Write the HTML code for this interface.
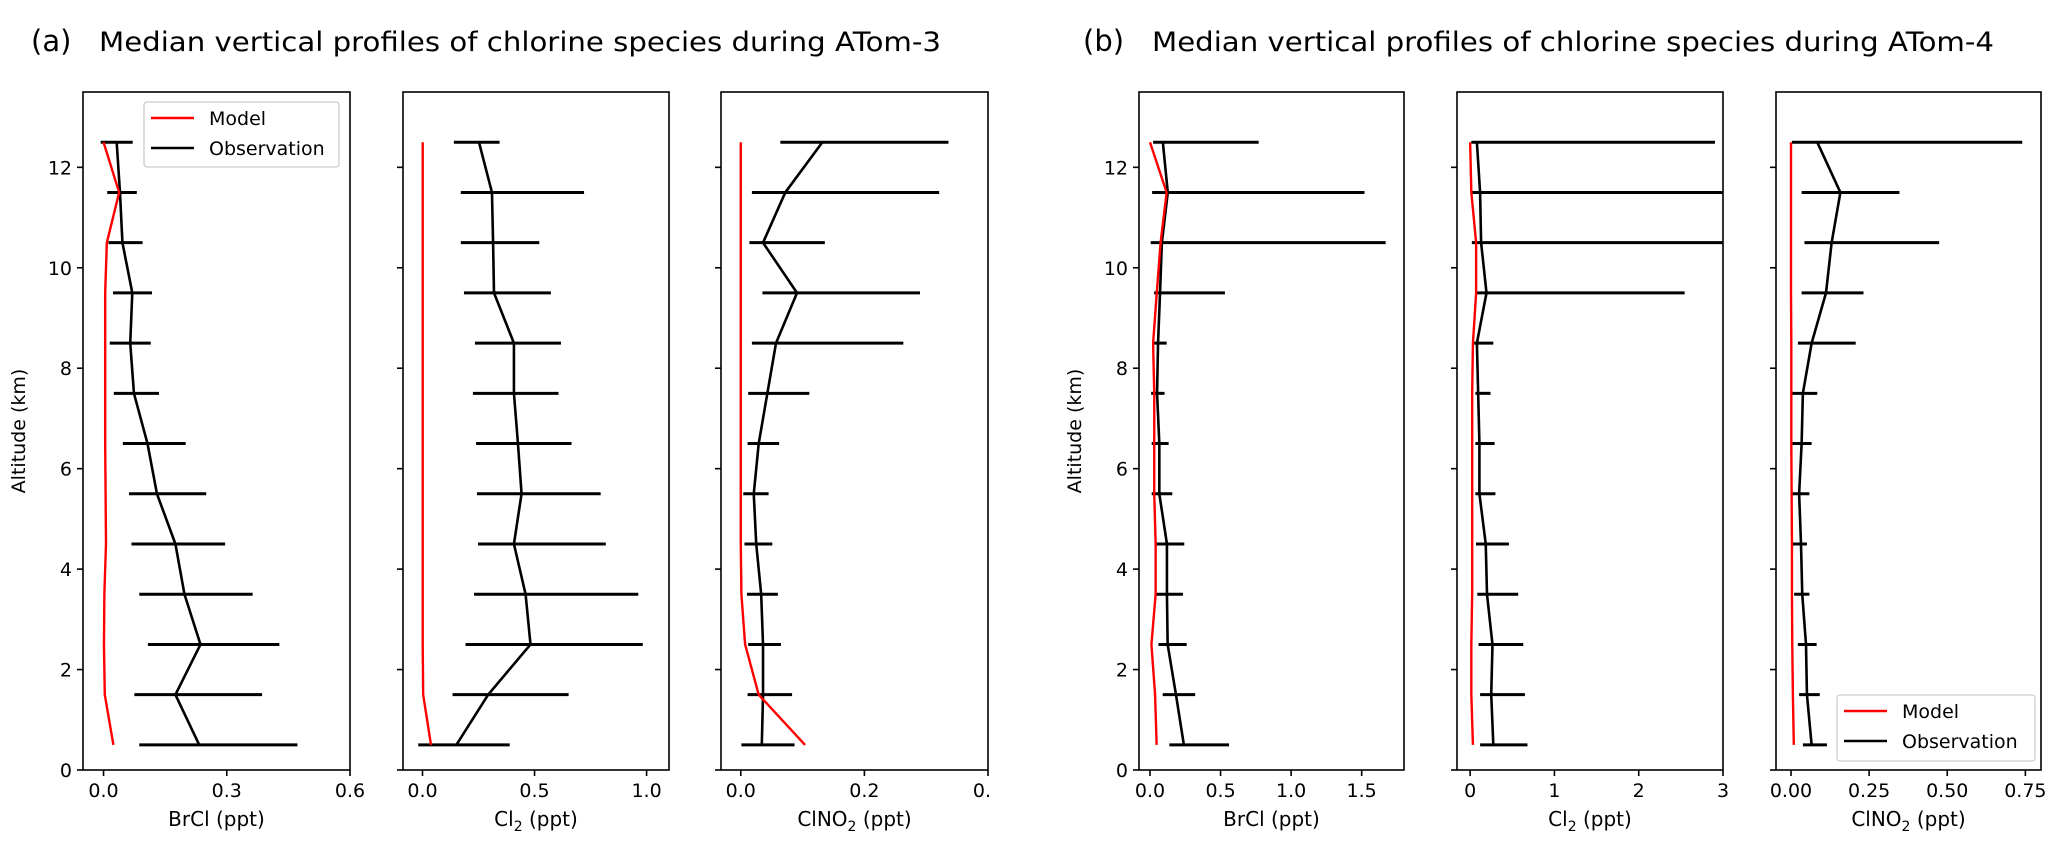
<!DOCTYPE html>
<html><head><meta charset="utf-8"><style>
html,body{margin:0;padding:0;background:#fff}
svg text{font-family:"DejaVu Sans","Liberation Sans",sans-serif;fill:#000}
</style></head><body>
<svg id="fig" width="2067" height="851" viewBox="0 0 2067 851" xmlns="http://www.w3.org/2000/svg">
<text x="31" y="51" font-size="29">(a)</text>
<text x="99" y="51" font-size="27" textLength="842" lengthAdjust="spacingAndGlyphs">Median vertical profiles of chlorine species during ATom-3</text>
<text x="1083" y="51" font-size="29">(b)</text>
<text x="1152" y="51" font-size="27" textLength="842" lengthAdjust="spacingAndGlyphs">Median vertical profiles of chlorine species during ATom-4</text>
</svg>
<script>
// altitude levels (km)
const levels = [0.5,1.5,2.5,3.5,4.5,5.5,6.5,7.5,8.5,9.5,10.5,11.5,12.5];
const yTicks = [0,2,4,6,8,10,12];

// (a) ATom-3 BrCl
const a1Obs   = [0.233,0.175,0.236,0.197,0.175,0.13,0.107,0.074,0.065,0.07,0.046,0.04,0.032];
const a1Lo    = [0.087,0.075,0.108,0.087,0.068,0.062,0.047,0.025,0.015,0.023,0.012,0.009,-0.007];
const a1Hi    = [0.472,0.386,0.428,0.363,0.296,0.25,0.2,0.135,0.115,0.118,0.095,0.081,0.071];
const a1Model = [0.024,0.003,0.001,0.002,0.006,0.005,0.004,0.004,0.004,0.004,0.008,0.038,0.0];
const a1Ticks = ["0.0","0.3","0.6"];
// (a) ATom-3 Cl2
const a2Obs   = [0.151,0.293,0.482,0.46,0.408,0.442,0.426,0.408,0.408,0.319,0.315,0.31,0.252];
const a2Lo    = [-0.019,0.134,0.192,0.23,0.248,0.243,0.239,0.225,0.234,0.185,0.171,0.171,0.14];
const a2Hi    = [0.389,0.652,0.983,0.963,0.818,0.795,0.665,0.607,0.618,0.573,0.521,0.721,0.344];
const a2Model = [0.038,0.003,0.001,0.001,0.001,0.001,0.001,0.001,0.001,0.001,0.001,0.001,0.001];
const a2Ticks = ["0.0","0.5","1.0"];
// (a) ATom-3 ClNO2
const a3Obs   = [0.034,0.036,0.036,0.033,0.025,0.021,0.029,0.043,0.057,0.091,0.036,0.072,0.132];
const a3Lo    = [0.001,0.011,0.012,0.01,0.006,0.004,0.011,0.012,0.018,0.035,0.014,0.018,0.064];
const a3Hi    = [0.087,0.083,0.065,0.06,0.051,0.045,0.062,0.111,0.263,0.29,0.136,0.321,0.336];
const a3Model = [0.104,0.029,0.007,0.001,0,0,0,0,0,0,0,0,0];
const a3Ticks = ["0.0","0.2","0.4"];
// (b) ATom-4 BrCl
const b1Obs   = [0.24,0.184,0.125,0.12,0.12,0.066,0.066,0.05,0.057,0.071,0.084,0.126,0.091];
const b1Lo    = [0.137,0.09,0.06,0.042,0.042,0.012,0.012,0.008,0.022,0.029,0.005,0.015,0.022];
const b1Hi    = [0.56,0.32,0.26,0.234,0.243,0.158,0.132,0.103,0.118,0.531,1.67,1.52,0.77];
const b1Model = [0.047,0.036,0.01,0.04,0.04,0.03,0.03,0.03,0.022,0.048,0.075,0.118,0.0];
const b1Ticks = ["0.0","0.5","1.0","1.5"];
// (b) ATom-4 Cl2
const b2Obs   = [0.275,0.25,0.265,0.2,0.185,0.11,0.11,0.095,0.08,0.194,0.13,0.118,0.08];
const b2Lo    = [0.118,0.118,0.1,0.085,0.07,0.062,0.062,0.062,0.047,0.08,0.02,0.014,0.014];
const b2Hi    = [0.68,0.65,0.63,0.57,0.46,0.3,0.29,0.242,0.275,2.545,3.5,3.5,2.905];
const b2Model = [0.033,0.014,0.014,0.024,0.024,0.024,0.024,0.024,0.033,0.071,0.071,0.014,0.0];
const b2Ticks = ["0","1","2","3"];
// (b) ATom-4 ClNO2
const b3Obs   = [0.066,0.051,0.048,0.036,0.032,0.026,0.034,0.038,0.066,0.112,0.13,0.158,0.084];
const b3Lo    = [0.038,0.026,0.022,0.01,0.005,0.005,0.005,0.003,0.022,0.034,0.043,0.034,0.003];
const b3Hi    = [0.115,0.092,0.082,0.059,0.051,0.059,0.066,0.084,0.207,0.232,0.474,0.347,0.74];
const b3Model = [0.009,0.006,0.004,0.003,0.003,0.002,0.001,0.001,0.001,0,0,0,0];
const b3Ticks = ["0.00","0.25","0.50","0.75"];

const NS = "http://www.w3.org/2000/svg";
const svg = document.getElementById('fig');
const Y0 = 770, YT = 92, YMAX = 13.5;
function yS(v){ return Y0 - (v/YMAX)*(Y0-YT); }
function mk(tag, attrs, parent){
  const e = document.createElementNS(NS, tag);
  for (const k in attrs) e.setAttribute(k, attrs[k]);
  (parent||svg).appendChild(e);
  return e;
}

const panels = [
  {id:'a-brcl', x0:83, x1:350, xmin:-0.05, xmax:0.6, obs:a1Obs, lo:a1Lo, hi:a1Hi, model:a1Model, ticks:a1Ticks, label:['BrCl (ppt)'], ylab:true, legend:'top'},
  {id:'a-cl2', x0:403, x1:669, xmin:-0.087, xmax:1.10, obs:a2Obs, lo:a2Lo, hi:a2Hi, model:a2Model, ticks:a2Ticks, label:['Cl','2',' (ppt)']},
  {id:'a-clno2', x0:721, x1:988, xmin:-0.032, xmax:0.4, obs:a3Obs, lo:a3Lo, hi:a3Hi, model:a3Model, ticks:a3Ticks, label:['ClNO','2',' (ppt)'], clipTick:true},
  {id:'b-brcl', x0:1139, x1:1404, xmin:-0.078, xmax:1.8, obs:b1Obs, lo:b1Lo, hi:b1Hi, model:b1Model, ticks:b1Ticks, label:['BrCl (ppt)'], ylab:true},
  {id:'b-cl2', x0:1457, x1:1723, xmin:-0.156, xmax:3.0, obs:b2Obs, lo:b2Lo, hi:b2Hi, model:b2Model, ticks:b2Ticks, label:['Cl','2',' (ppt)']},
  {id:'b-clno2', x0:1776, x1:2041, xmin:-0.048, xmax:0.8, obs:b3Obs, lo:b3Lo, hi:b3Hi, model:b3Model, ticks:b3Ticks, label:['ClNO','2',' (ppt)'], legend:'bottom'}
];

panels.forEach((p, pi) => {
  const xS = v => p.x0 + (v - p.xmin)/(p.xmax - p.xmin)*(p.x1 - p.x0);
  const g = mk('g', {});
  
  
  const cp = mk('clipPath', {id:'clip'+pi}, g);
  mk('rect', {x:p.x0, y:YT, width:p.x1-p.x0, height:Y0-YT}, cp);
  const plot = mk('g', {'clip-path':'url(#clip'+pi+')'}, g);

  // error bars
  levels.forEach((lv, i) => {
    const b = mk('line', {x1:xS(p.lo[i]), x2:xS(p.hi[i]), y1:yS(lv), y2:yS(lv), stroke:'#000', 'stroke-width':3}, plot);
    
    
  });
  // observation line
  const ob = mk('polyline', {points: levels.map((lv,i)=>xS(p.obs[i])+','+yS(lv)).join(' '), fill:'none', stroke:'#000', 'stroke-width':2.6, 'stroke-linejoin':'round'}, plot);
  
  
  // model line
  const ml = mk('polyline', {points: levels.map((lv,i)=>xS(p.model[i])+','+yS(lv)).join(' '), fill:'none', stroke:'#ff0000', 'stroke-width':2.4, 'stroke-linejoin':'round'}, plot);
  
  

  // frame
  const fr = mk('rect', {x:p.x0, y:YT, width:p.x1-p.x0, height:Y0-YT, fill:'none', stroke:'#000', 'stroke-width':1.6}, g);
  
  

  // y ticks
  yTicks.forEach(t => {
    mk('line', {x1:p.x0-6, x2:p.x0, y1:yS(t), y2:yS(t), stroke:'#000', 'stroke-width':1.6}, g);
    if (p.ylab) {
      const tl = mk('text', {x:p.x0-11, y:yS(t)+7, 'font-size':19, 'text-anchor':'end'}, g);
      tl.textContent = String(t);
      
      
    }
  });
  if (p.ylab) {
    const cx = p.x0 - 58, cy = (Y0+YT)/2;
    const yl = mk('text', {x:cx, y:cy, 'font-size':19, 'text-anchor':'middle', transform:'rotate(-90 '+cx+' '+cy+')'}, g);
    yl.textContent = 'Altitude (km)';
    
    
  }
  // x ticks
  let tg = g;
  if (p.clipTick) {
    const cp2 = mk('clipPath', {id:'tclip'+pi}, g);
    mk('rect', {x:p.x0-40, y:Y0, width:p.x1-p.x0+43, height:60}, cp2);
    tg = mk('g', {'clip-path':'url(#tclip'+pi+')'}, g);
  }
  p.ticks.forEach(s => {
    const v = parseFloat(s), x = xS(v);
    mk('line', {x1:x, x2:x, y1:Y0, y2:Y0+6, stroke:'#000', 'stroke-width':1.6}, g);
    const tl = mk('text', {x:x, y:Y0+27, 'font-size':19, 'text-anchor':'middle'}, tg);
    tl.textContent = s;
    
    
  });
  // x label
  const xl = mk('text', {x:(p.x0+p.x1)/2, y:Y0+56, 'font-size':20, 'text-anchor':'middle'}, g);
  
  
  p.label.forEach((part, k) => {
    const ts = mk('tspan', {}, xl);
    if (k === 1) { ts.setAttribute('font-size', 14); ts.setAttribute('dy', 5); }
    if (k === 2) { ts.setAttribute('dy', -5); }
    ts.textContent = part;
  });

  // legend
  if (p.legend) {
    const L = p.legend === 'top' ? {x:144, y:102, w:195, h:65} : {x:1837, y:695, w:198, h:66};
    const lg = mk('g', {}, g);
    
    
    mk('rect', {x:L.x, y:L.y, width:L.w, height:L.h, rx:3, fill:'#fff', 'fill-opacity':0.8, stroke:'#cccccc', 'stroke-width':1.3}, lg);
    const entries = [['Model','#ff0000'],['Observation','#000']];
    entries.forEach((en, k) => {
      const yy = L.y + 16 + k*30;
      mk('line', {x1:L.x+7, x2:L.x+50, y1:yy, y2:yy, stroke:en[1], 'stroke-width':2.6}, lg);
      const t = mk('text', {x:L.x+65, y:yy+7, 'font-size':19}, lg);
      t.textContent = en[0];
      
      
    });
  }
});
</script>
</body></html>
